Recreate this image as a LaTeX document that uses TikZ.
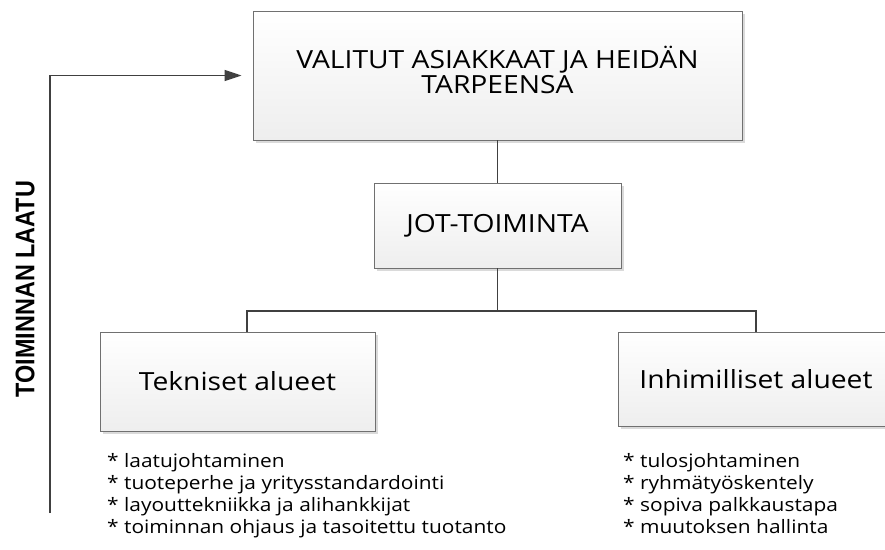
\documentclass[tikz,border=0pt]{standalone}
\usepackage{fontspec}
\setmainfont{Open Sans}[FakeStretch=1.13]
\newfontfamily\boldsans{Liberation Sans}[FakeStretch=1.0]
\usetikzlibrary{arrows.meta,shadows}
\definecolor{linegray}{HTML}{404040}
\definecolor{boxborder}{HTML}{707070}
\definecolor{boxbottom}{HTML}{EEEEEE}
\definecolor{shadowgray}{HTML}{DADADA}
\tikzset{
  boxnode/.style={draw=boxborder, line width=0.9pt, top color=white, bottom color=boxbottom,
    drop shadow={shadow xshift=3pt, shadow yshift=-3pt, fill=shadowgray, opacity=1},
    inner sep=0pt, align=center, text=black},
  conn/.style={draw=linegray, line width=1.3pt},
  headfont/.style={font=\fontsize{25}{24.5}\selectfont},
  listfont/.style={font=\fontsize{18.5}{22}\selectfont, align=left, inner sep=0pt, text=black},
}
\begin{document}
\begin{tikzpicture}[x=1pt, y=-1pt]
\useasboundingbox (0,0) rectangle (885,549);
\clip (0,0) rectangle (885,549);
\fill[white] (0,0) rectangle (885,549);
\node[boxnode, minimum width=489pt, minimum height=129pt] (top) at (497.5,75.5) {};
\node[headfont, align=center, inner sep=0pt] (toptext) at (497.5,70)
  {VALITUT ASIAKKAAT JA HEIDÄN\\TARPEENSA};
\node[boxnode, headfont, minimum width=247pt, minimum height=85pt] (jot) at (497.5,225.5)
  {JOT-TOIMINTA};
\node[boxnode, headfont, minimum width=275pt, minimum height=99pt] (tek) at (237.5,381.5)
  {Tekniset alueet};
\node[boxnode, headfont, minimum width=276pt, minimum height=94pt] (inh) at (756,379)
  {Inhimilliset alueet};
\coordinate (bus) at (497.5,311);
\draw[conn] (top.south) -- (jot.north);
\draw[conn] (jot.south) -- (bus) -| ([xshift=9.5pt]tek.north);
\draw[conn] (bus) -| (inh.north);
\coordinate (qstart) at (50,513);
\draw[conn, -{Triangle[length=17pt,width=11pt]}, shorten >=11pt] (qstart) |- (top.west);
\node[rotate=90, font=\boldsans\bfseries\fontsize{23.4}{23.4}\selectfont] (laatu) at (25,289)
  {\scalebox{1}[1.15]{TOIMINNAN LAATU}};
\node[listfont, anchor=north west] (tlist) at (107,453)
  {* laatujohtaminen\\* tuoteperhe ja yritysstandardointi\\* layouttekniikka ja alihankkijat\\* toiminnan ohjaus ja tasoitettu tuotanto};
\node[listfont, anchor=north west] (ilist) at (623,453)
  {* tulosjohtaminen\\* ryhmätyöskentely\\* sopiva palkkaustapa\\* muutoksen hallinta};
\end{tikzpicture}
\end{document}
